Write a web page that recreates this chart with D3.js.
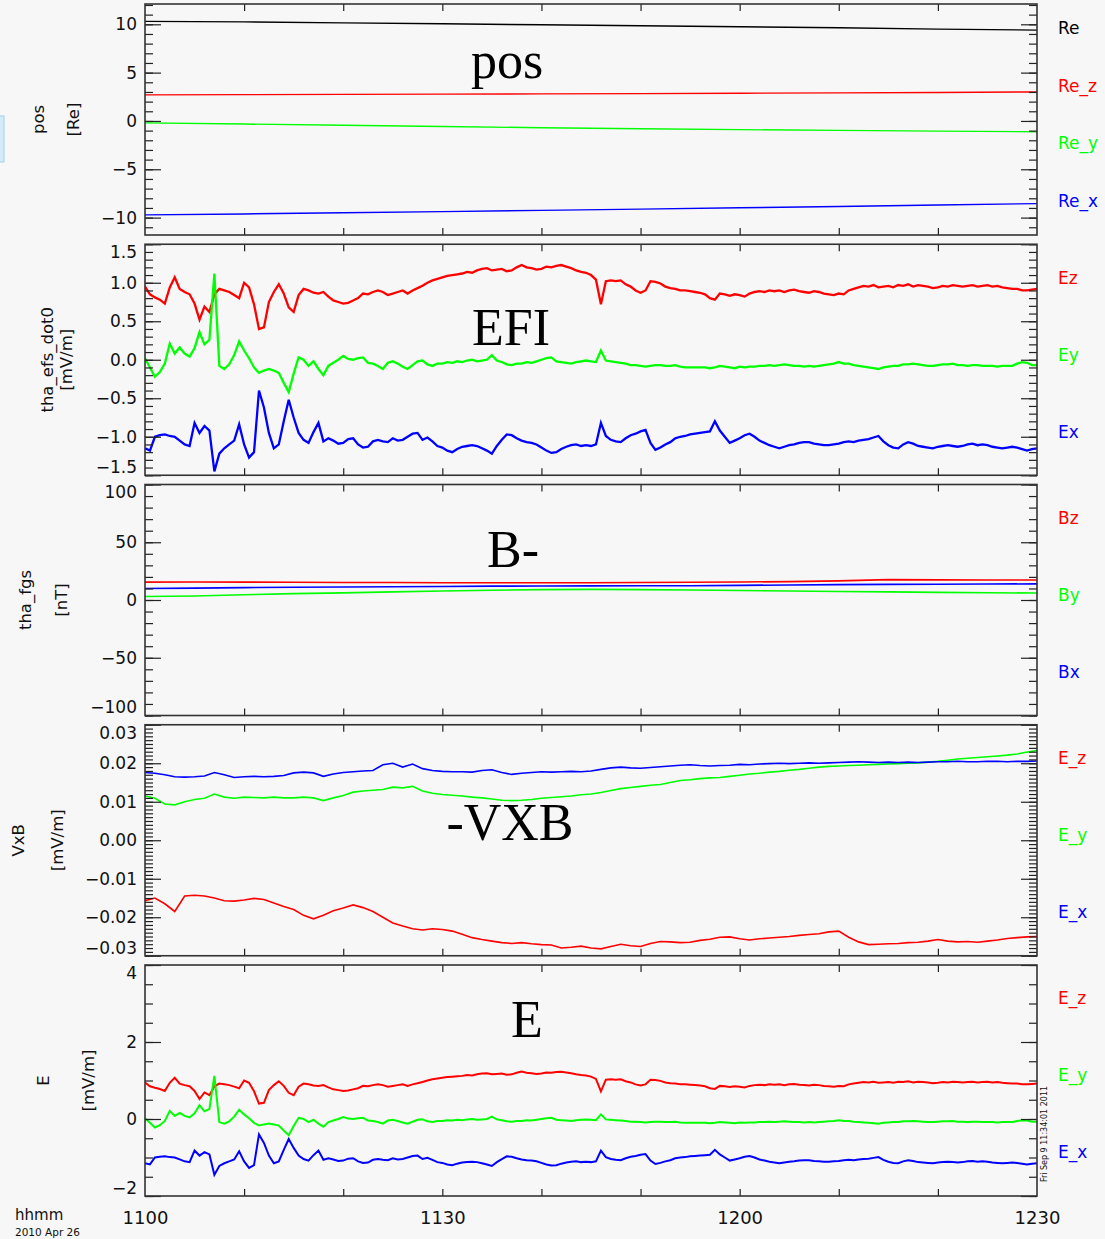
<!DOCTYPE html>
<html>
<head>
<meta charset="utf-8">
<script src="https://cdn.jsdelivr.net/npm/d3@7"></script>
<style>
  body { margin: 0; background: #f7f7f7; }
  svg { display: block; font-family: "DejaVu Sans", sans-serif; }
</style>
</head>
<body>
<div id="chart"></div>
<script>
var width = 1105,
    height = 1239;

// time axis: minutes after 11:00 UT, 2010 Apr 26
var xTickLabels = ["1100", "1130", "1200", "1230"];
var xLabelMinutes = [0, 30, 60, 90];

// pos [Re], one sample every 10 min
var posStep = 10;
var posRe  = [10.3, 10.25, 10.15, 10.05, 9.95, 9.85, 9.75, 9.65, 9.5, 9.4];
var posRez = [2.7, 2.72, 2.75, 2.78, 2.8, 2.83, 2.87, 2.9, 2.95, 3.0];
var posRey = [-0.2, -0.32, -0.45, -0.58, -0.7, -0.8, -0.9, -0.98, -1.05, -1.12];
var posRex = [-9.72, -9.62, -9.5, -9.38, -9.25, -9.12, -8.98, -8.85, -8.7, -8.55];

// tha_efs_dot0 [mV/m], one sample every 0.5 min
var efiStep = 0.5;
var efiEz = [
  0.95, 0.85, 0.81, 0.78, 0.73, 0.94, 1.07, 0.92, 0.88, 0.85,
  0.73, 0.52, 0.69, 0.62, 0.85, 0.92, 0.90, 0.88, 0.84, 0.80,
  1.00, 0.94, 0.72, 0.40, 0.42, 0.75, 0.88, 0.98, 0.86, 0.68,
  0.62, 0.84, 0.92, 0.90, 0.87, 0.86, 0.88, 0.82, 0.77, 0.75,
  0.73, 0.74, 0.77, 0.80, 0.86, 0.85, 0.88, 0.90, 0.88, 0.84,
  0.86, 0.88, 0.90, 0.86, 0.90, 0.93, 0.96, 1.00, 1.03, 1.05,
  1.07, 1.09, 1.10, 1.11, 1.12, 1.14, 1.13, 1.16, 1.18, 1.19,
  1.16, 1.17, 1.18, 1.15, 1.16, 1.20, 1.23, 1.20, 1.19, 1.17,
  1.18, 1.21, 1.20, 1.22, 1.23, 1.21, 1.19, 1.16, 1.14, 1.13,
  1.10, 1.04, 0.72, 1.02, 1.03, 1.02, 1.03, 0.98, 0.95, 0.90,
  0.87, 0.90, 1.02, 1.01, 0.99, 0.95, 0.93, 0.92, 0.90, 0.90,
  0.89, 0.88, 0.87, 0.85, 0.80, 0.78, 0.86, 0.85, 0.83, 0.85,
  0.84, 0.82, 0.86, 0.88, 0.89, 0.88, 0.90, 0.89, 0.90, 0.88,
  0.90, 0.91, 0.89, 0.88, 0.87, 0.89, 0.88, 0.86, 0.85, 0.84,
  0.86, 0.85, 0.90, 0.92, 0.94, 0.96, 0.95, 0.97, 0.94, 0.95,
  0.96, 0.94, 0.97, 0.96, 0.98, 0.95, 0.97, 0.96, 0.95, 0.93,
  0.94, 0.96, 0.95, 0.97, 0.96, 0.95, 0.96, 0.97, 0.95, 0.96,
  0.97, 0.95, 0.96, 0.94, 0.93, 0.92, 0.92, 0.90, 0.90, 0.91,
  0.92
];
var efiEy = [
  0.02, -0.10, -0.22, -0.16, -0.05, 0.21, 0.08, 0.16, 0.08, 0.04,
  0.15, 0.36, 0.20, 0.26, 1.12, -0.08, -0.12, -0.06, 0.06, 0.24,
  0.12, 0.02, -0.10, -0.17, -0.14, -0.12, -0.14, -0.17, -0.30, -0.42,
  -0.18, 0.03, 0.00, -0.08, -0.02, -0.12, -0.20, -0.08, -0.04, 0.00,
  0.05, 0.01, 0.00, 0.02, 0.03, -0.04, -0.05, -0.08, -0.12, -0.04,
  -0.02, -0.05, -0.09, -0.12, -0.07, -0.02, -0.01, -0.06, -0.08, -0.05,
  -0.05, -0.03, -0.04, -0.02, -0.03, -0.01, 0.00, -0.02, -0.01, 0.00,
  0.06, -0.01, -0.03, -0.06, -0.07, -0.05, -0.05, -0.03, -0.04, -0.02,
  0.00, 0.02, 0.03, -0.02, -0.03, -0.04, -0.05, -0.03, -0.02, -0.01,
  -0.02, -0.03, 0.12, -0.01, -0.02, -0.03, -0.04, -0.05, -0.07, -0.07,
  -0.08, -0.09, -0.08, -0.07, -0.07, -0.08, -0.08, -0.07, -0.09, -0.10,
  -0.10, -0.10, -0.10, -0.10, -0.11, -0.10, -0.08, -0.09, -0.10, -0.11,
  -0.09, -0.10, -0.09, -0.09, -0.08, -0.08, -0.07, -0.08, -0.07, -0.06,
  -0.07, -0.08, -0.08, -0.09, -0.08, -0.09, -0.08, -0.07, -0.06, -0.05,
  -0.03, -0.05, -0.05, -0.07, -0.08, -0.09, -0.10, -0.11, -0.12, -0.10,
  -0.09, -0.08, -0.08, -0.06, -0.06, -0.05, -0.06, -0.07, -0.08, -0.08,
  -0.07, -0.06, -0.06, -0.05, -0.07, -0.07, -0.08, -0.07, -0.07, -0.08,
  -0.08, -0.08, -0.09, -0.08, -0.08, -0.08, -0.05, -0.03, -0.04, -0.07,
  -0.07
];
var efiEx = [
  -1.15, -1.18, -1.00, -0.98, -0.97, -0.99, -1.00, -1.05, -1.10, -1.12,
  -0.82, -0.95, -0.86, -0.92, -1.45, -1.22, -1.15, -1.10, -1.05, -0.84,
  -1.10, -1.27, -1.20, -0.40, -0.62, -0.95, -1.15, -1.10, -0.80, -0.52,
  -0.75, -0.95, -1.04, -1.08, -0.94, -0.82, -1.06, -1.02, -1.05, -1.09,
  -1.08, -1.03, -1.02, -1.10, -1.14, -1.13, -1.06, -1.04, -1.06, -1.07,
  -1.02, -1.05, -1.04, -1.00, -0.96, -0.95, -1.04, -1.01, -1.06, -1.12,
  -1.14, -1.18, -1.20, -1.16, -1.13, -1.12, -1.11, -1.12, -1.15, -1.18,
  -1.22, -1.12, -1.04, -0.97, -0.98, -1.02, -1.05, -1.07, -1.08, -1.10,
  -1.14, -1.18, -1.21, -1.20, -1.16, -1.13, -1.11, -1.10, -1.12, -1.11,
  -1.12, -1.10, -0.82, -0.99, -1.04, -1.06, -1.07, -1.02, -0.98, -0.96,
  -0.93, -0.91, -1.08, -1.17, -1.14, -1.10, -1.07, -1.02, -1.00, -0.99,
  -0.97, -0.96, -0.95, -0.94, -0.93, -0.80, -0.92, -1.00, -1.08, -1.05,
  -1.02, -0.98, -0.96, -1.00, -1.05, -1.08, -1.11, -1.13, -1.15, -1.13,
  -1.11, -1.10, -1.08, -1.07, -1.07, -1.09, -1.10, -1.11, -1.11, -1.10,
  -1.09, -1.07, -1.06, -1.07, -1.05, -1.04, -1.03, -1.01, -0.99, -1.06,
  -1.11, -1.14, -1.15, -1.10, -1.07, -1.09, -1.12, -1.13, -1.14, -1.15,
  -1.13, -1.12, -1.11, -1.12, -1.13, -1.12, -1.10, -1.09, -1.11, -1.10,
  -1.11, -1.13, -1.14, -1.15, -1.14, -1.13, -1.14, -1.16, -1.18, -1.16,
  -1.15
];

// tha_fgs [nT], one sample every 5 min
var fgsStep = 5;
var fgsBz = [15.5, 15.6, 15.5, 15.4, 15.2, 15.1, 15.0, 15.0, 14.9, 15.0, 15.2, 15.4, 15.6, 15.9, 16.6, 17.6, 17.4, 17.3, 17.3];
var fgsBy = [3.0, 3.5, 4.5, 5.5, 6.2, 7.0, 7.8, 8.5, 9.0, 9.2, 9.0, 8.6, 8.2, 7.8, 7.4, 7.0, 6.6, 6.3, 6.0];
var fgsBx = [10.0, 10.3, 10.7, 11.0, 11.3, 11.5, 11.7, 12.0, 12.1, 12.2, 12.3, 12.4, 12.7, 13.0, 13.3, 13.5, 13.7, 13.8, 14.0];

// -VxB [mV/m], one sample every 1 min
var vxbStep = 1;
var vxbEz = [
  -0.0157, -0.0150, -0.0165, -0.0185, -0.0145, -0.0143, -0.0145, -0.0150, -0.0157, -0.0158,
  -0.0155, -0.0151, -0.0154, -0.0163, -0.0172, -0.0180, -0.0195, -0.0204, -0.0195, -0.0183,
  -0.0176, -0.0168, -0.0175, -0.0185, -0.0200, -0.0215, -0.0223, -0.0230, -0.0233, -0.0230,
  -0.0232, -0.0236, -0.0244, -0.0253, -0.0258, -0.0262, -0.0266, -0.0268, -0.0266, -0.0269,
  -0.0271, -0.0272, -0.0280, -0.0278, -0.0275, -0.0280, -0.0282, -0.0276, -0.0270, -0.0274,
  -0.0276, -0.0268, -0.0263, -0.0264, -0.0266, -0.0265, -0.0260, -0.0257, -0.0252, -0.0251,
  -0.0256, -0.0259, -0.0256, -0.0254, -0.0252, -0.0250, -0.0247, -0.0245, -0.0243, -0.0238,
  -0.0236, -0.0252, -0.0264, -0.0271, -0.0270, -0.0269, -0.0268, -0.0266, -0.0265, -0.0262,
  -0.0258, -0.0262, -0.0264, -0.0263, -0.0265, -0.0262, -0.0259, -0.0255, -0.0253, -0.0251,
  -0.0250
];
var vxbEy = [
  0.0115, 0.0109, 0.0094, 0.0092, 0.0100, 0.0106, 0.0109, 0.0120, 0.0112, 0.0109,
  0.0112, 0.0111, 0.0110, 0.0112, 0.0110, 0.0110, 0.0112, 0.0110, 0.0103, 0.0110,
  0.0116, 0.0125, 0.0128, 0.0130, 0.0132, 0.0138, 0.0136, 0.0140, 0.0128, 0.0122,
  0.0119, 0.0117, 0.0115, 0.0112, 0.0110, 0.0107, 0.0104, 0.0103, 0.0104, 0.0106,
  0.0109, 0.0111, 0.0113, 0.0115, 0.0118, 0.0120, 0.0124, 0.0129, 0.0134, 0.0137,
  0.0140, 0.0143, 0.0145, 0.0150, 0.0155, 0.0157, 0.0160, 0.0162, 0.0163, 0.0166,
  0.0169, 0.0172, 0.0174, 0.0177, 0.0179, 0.0182, 0.0184, 0.0187, 0.0190, 0.0192,
  0.0193, 0.0194, 0.0195, 0.0196, 0.0197, 0.0198, 0.0199, 0.0200, 0.0201, 0.0203,
  0.0205, 0.0208, 0.0211, 0.0213, 0.0215, 0.0217, 0.0219, 0.0221, 0.0224, 0.0229,
  0.0233
];
var vxbEx = [
  0.0176, 0.0174, 0.0170, 0.0165, 0.0164, 0.0165, 0.0167, 0.0176, 0.0170, 0.0163,
  0.0165, 0.0166, 0.0165, 0.0166, 0.0168, 0.0175, 0.0177, 0.0175, 0.0166, 0.0172,
  0.0176, 0.0178, 0.0180, 0.0181, 0.0196, 0.0200, 0.0190, 0.0198, 0.0186, 0.0181,
  0.0179, 0.0178, 0.0178, 0.0177, 0.0181, 0.0183, 0.0176, 0.0171, 0.0174, 0.0176,
  0.0178, 0.0177, 0.0178, 0.0179, 0.0178, 0.0180, 0.0184, 0.0188, 0.0190, 0.0188,
  0.0187, 0.0189, 0.0191, 0.0193, 0.0195, 0.0196, 0.0194, 0.0193, 0.0194, 0.0195,
  0.0197, 0.0196, 0.0198, 0.0199, 0.0200, 0.0199, 0.0200, 0.0201, 0.0200, 0.0201,
  0.0202, 0.0203, 0.0204, 0.0203, 0.0202, 0.0203, 0.0202, 0.0203, 0.0202, 0.0203,
  0.0204, 0.0204, 0.0205, 0.0204, 0.0204, 0.0205, 0.0205, 0.0204, 0.0205, 0.0205,
  0.0206
];

var red = "#ff0000", green = "#00ff00", blue = "#0000ff", black = "#000000";

// panel setup, top to bottom
var panels = [
  { domain: [-11.8, 12.1], major: [-10, -5, 0, 5, 10], minor: 1, fmt: d3.format("d"),
    title: "pos", titleX: 38, unit: "[Re]", unitX: 73,
    tag: "pos", tagX: 507, tagY: 78, lw: 1.4,
    series: [
      { name: "Re", color: black, step: posStep, v: posRe },
      { name: "Re_z", color: red, step: posStep, v: posRez },
      { name: "Re_y", color: green, step: posStep, v: posRey },
      { name: "Re_x", color: blue, step: posStep, v: posRex }
    ] },
  { domain: [-1.5, 1.5], major: [-1.5, -1, -0.5, 0, 0.5, 1, 1.5], minor: 0.1, fmt: d3.format(".1f"),
    title: "tha_efs_dot0", titleX: 47, unit: "[mV/m]", unitX: 66,
    tag: "EFI", tagX: 511, tagY: 345, lw: 2.3,
    series: [
      { name: "Ez", color: red, step: efiStep, v: efiEz },
      { name: "Ey", color: green, step: efiStep, v: efiEy },
      { name: "Ex", color: blue, step: efiStep, v: efiEx }
    ] },
  { domain: [-100, 100], major: [-100, -50, 0, 50, 100], minor: 10, fmt: d3.format("d"),
    title: "tha_fgs", titleX: 25, unit: "[nT]", unitX: 61,
    tag: "B-", tagX: 513, tagY: 567, lw: 1.6,
    series: [
      { name: "Bz", color: red, step: fgsStep, v: fgsBz },
      { name: "By", color: green, step: fgsStep, v: fgsBy },
      { name: "Bx", color: blue, step: fgsStep, v: fgsBx }
    ] },
  { domain: [-0.03, 0.03], major: [-0.03, -0.02, -0.01, 0, 0.01, 0.02, 0.03], minor: 0.001, fmt: d3.format(".2f"),
    title: "VxB", titleX: 18, unit: "[mV/m]", unitX: 57,
    tag: "-VXB", tagX: 510, tagY: 840, lw: 1.6,
    series: [
      { name: "E_z", color: red, step: vxbStep, v: vxbEz },
      { name: "E_y", color: green, step: vxbStep, v: vxbEy },
      { name: "E_x", color: blue, step: vxbStep, v: vxbEx }
    ] },
  { domain: [-2, 4], major: [-2, 0, 2, 4], minor: 0.5, fmt: d3.format("d"),
    title: "E", titleX: 43, unit: "[mV/m]", unitX: 88,
    tag: "E", tagX: 527, tagY: 1037, lw: 2.0,
    series: [
      { name: "E_z", color: red, step: efiStep, v: efiEz },
      { name: "E_y", color: green, step: efiStep, v: efiEy },
      { name: "E_x", color: blue, step: efiStep, v: efiEx }
    ] }
];

var plotLeft = 145, plotRight = 1037,
    firstTop = 4, panelH = 231, panelPitch = 240.25;

var svg = d3.select("#chart")
    .append("svg")
    .attr("width", width)
    .attr("height", height);

svg.append("rect")
    .attr("width", width)
    .attr("height", height)
    .attr("fill", "#f7f7f7");

// bit of a stray window at the left edge of the screenshot
svg.append("rect")
    .attr("x", -2).attr("y", 116)
    .attr("width", 6).attr("height", 46)
    .attr("fill", "#d3ecf8")
    .attr("stroke", "#9fd2ee");

var x = d3.scaleLinear().domain([0, 90]).range([plotLeft, plotRight]);

function minorTicks(domain, step) {
    var lo = Math.ceil(domain[0] / step - 1e-9),
        hi = Math.floor(domain[1] / step + 1e-9);
    return d3.range(lo, hi + 1).map(function (k) { return +(k * step).toFixed(6); });
}

function styleAxis(g) {
    g.select(".domain").remove();
    g.selectAll("line").attr("stroke", "#222").attr("stroke-width", 1.2);
}

panels.forEach(function (p, pi) {
    var top = firstTop + pi * panelPitch,
        bottom = top + panelH;

    var y = d3.scaleLinear().domain(p.domain).range([bottom, top]);
    var g = svg.append("g");

    // data lines
    var clipId = "clip" + pi;
    g.append("clipPath").attr("id", clipId)
        .append("rect")
        .attr("x", plotLeft).attr("y", top)
        .attr("width", plotRight - plotLeft).attr("height", panelH);

    p.series.forEach(function (s) {
        var line = d3.line()
            .x(function (d, i) { return x(i * s.step); })
            .y(function (d) { return y(d); });
        g.append("path")
            .datum(s.v)
            .attr("clip-path", "url(#" + clipId + ")")
            .attr("fill", "none")
            .attr("stroke", s.color)
            .attr("stroke-width", p.lw)
            .attr("stroke-linejoin", "miter")
            .attr("d", line);
    });

    // minor y ticks, both sides
    g.append("g")
        .attr("transform", "translate(" + plotLeft + ",0)")
        .call(d3.axisLeft(y).tickValues(minorTicks(p.domain, p.minor)).tickSize(-8).tickFormat(""))
        .call(styleAxis);
    g.append("g")
        .attr("transform", "translate(" + plotRight + ",0)")
        .call(d3.axisRight(y).tickValues(minorTicks(p.domain, p.minor)).tickSize(-8).tickFormat(""))
        .call(styleAxis);

    // major y ticks with labels
    var ax = g.append("g")
        .attr("transform", "translate(" + plotLeft + ",0)")
        .call(d3.axisLeft(y).tickValues(p.major).tickSize(-16).tickPadding(8).tickFormat(p.fmt))
        .call(styleAxis);
    ax.selectAll("text")
        .attr("font-size", 17)
        .style("font-family", "DejaVu Sans, sans-serif")
        .attr("fill", "#111")
        .attr("y", function (d) {
            // end labels are pushed inside the frame
            var py = y(d);
            if (py - top < 8) return top + 8 - py;
            if (bottom - py < 8) return bottom - 8 - py;
            return 0;
        });
    g.append("g")
        .attr("transform", "translate(" + plotRight + ",0)")
        .call(d3.axisRight(y).tickValues(p.major).tickSize(-16).tickFormat(""))
        .call(styleAxis);

    // x ticks every 10 min on top and bottom
    g.append("g")
        .attr("transform", "translate(0," + bottom + ")")
        .call(d3.axisBottom(x).tickValues(d3.range(10, 90, 10)).tickSize(-7).tickFormat(""))
        .call(styleAxis);
    g.append("g")
        .attr("transform", "translate(0," + top + ")")
        .call(d3.axisTop(x).tickValues(d3.range(10, 90, 10)).tickSize(-7).tickFormat(""))
        .call(styleAxis);

    // frame
    g.append("rect")
        .attr("x", plotLeft).attr("y", top)
        .attr("width", plotRight - plotLeft).attr("height", panelH)
        .attr("fill", "none")
        .attr("stroke", "#333")
        .attr("stroke-width", 1.6);

    // y title, two lines
    var midY = (top + bottom) / 2;
    [[p.title, p.titleX], [p.unit, p.unitX]].forEach(function (t) {
        g.append("text")
            .attr("transform", "translate(" + t[1] + "," + midY + ") rotate(-90)")
            .attr("text-anchor", "middle")
            .attr("dominant-baseline", "central")
            .attr("font-size", 16.5)
            .attr("fill", "#111")
            .text(t[0]);
    });

    // legend on the right
    var spacing = panelH / p.series.length;
    g.selectAll(".leg")
        .data(p.series)
        .enter()
        .append("text")
        .attr("x", 1058)
        .attr("y", function (d, i) { return top + spacing * (i + 0.5) - 5; })
        .attr("dy", "0.35em")
        .attr("font-size", 17)
        .attr("fill", function (d) { return d.color; })
        .text(function (d) { return d.name; });

    // big overlay label
    g.append("text")
        .attr("x", p.tagX)
        .attr("y", p.tagY)
        .attr("text-anchor", "middle")
        .style("font-family", "'Liberation Serif', 'DejaVu Serif', serif")
        .attr("font-size", 52)
        .attr("fill", "#000")
        .text(p.tag);

    if (pi === panels.length - 1) {
        var xa = g.append("g")
            .attr("transform", "translate(0," + bottom + ")")
            .call(d3.axisBottom(x).tickValues(xLabelMinutes).tickSize(0).tickPadding(15)
                .tickFormat(function (d, i) { return xTickLabels[i]; }))
            .call(styleAxis);
        xa.selectAll("text")
            .attr("font-size", 18)
            .style("font-family", "DejaVu Sans, sans-serif")
            .attr("fill", "#111");

        svg.append("text")
            .attr("x", 15).attr("y", 1220)
            .attr("font-size", 15)
            .attr("fill", "#111")
            .text("hhmm");
        svg.append("text")
            .attr("x", 15).attr("y", 1236)
            .attr("font-size", 10.5)
            .attr("fill", "#111")
            .text("2010 Apr 26");

        // plot time stamp
        svg.append("text")
            .attr("transform", "translate(1044," + (bottom - 62) + ") rotate(-90)")
            .attr("text-anchor", "middle")
            .attr("dominant-baseline", "central")
            .attr("font-size", 8)
            .attr("fill", "#111")
            .text("Fri Sep  9 11:34:01 2011");
    }
});
</script>
</body>
</html>
